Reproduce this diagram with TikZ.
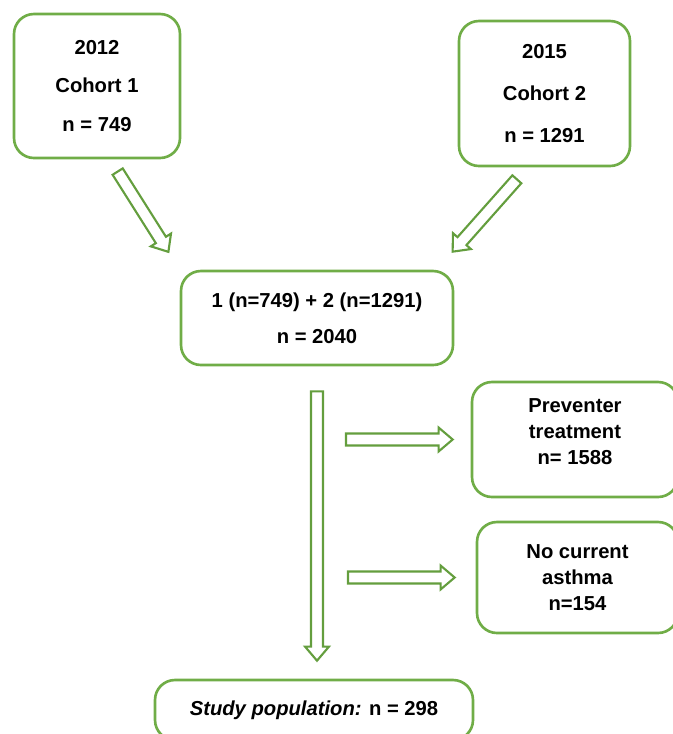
\documentclass[tikz,border=0pt]{standalone}
\usepackage{fontspec}
\setmainfont{Liberation Sans}
\usetikzlibrary{calc,positioning}

\definecolor{framegreen}{RGB}{112,173,71}
\definecolor{arrowgreen}{RGB}{100,158,62}

\tikzset{
	box/.style={draw=framegreen, line width=1.5pt, rounded corners=0.4cm, fill=white, align=center,
		font=\bfseries\fontsize{11.5}{15}\selectfont, inner sep=2pt},
	hollow/.style 2 args={draw=arrowgreen, line width=1.2pt, fill=white, line join=miter,
		to path={
			let \p1=($(\tikztostart)!#1!(\tikztotarget)$),
			    \p2=($(\tikztotarget)!#2!(\tikztostart)$),
			    \n1={atan2(\y2-\y1,\x2-\x1)},
			    \n2={veclen(\x2-\x1,\y2-\y1)} in
			{[shift={(\p1)}, rotate=\n1]
			(0,-3.4pt) -- ({\n2-8pt},-3.4pt) -- ({\n2-8pt},-6.8pt) -- (\n2,0)
			-- ({\n2-8pt},6.8pt) -- ({\n2-8pt},3.4pt) -- (0,3.4pt) -- cycle}
		}}
}

\begin{document}
\begin{tikzpicture}
		\useasboundingbox (0,0) rectangle (13.46,-14.68);

		\node[box, minimum width=3.32cm, minimum height=2.88cm] (c1) at (1.94,-1.72) {2012\\[7pt] Cohort 1\\[7pt] n = 749};
		\node[box, minimum width=3.42cm, minimum height=2.90cm] (c2) at (10.89,-1.87) {2015\\[9pt] Cohort 2\\[9pt] n = 1291};
		\node[box, minimum width=5.44cm, minimum height=1.88cm] (pool) at (6.34,-6.36) {1 (n=749) + 2 (n=1291)\\[5.5pt] n = 2040};
		\node[box, minimum width=4.12cm, minimum height=2.30cm] (prev) at (11.50,-8.79) {Preventer\\ treatment\\ n= 1588\\[-6pt]};
		\node[box, minimum width=4.02cm, minimum height=2.22cm] (nca) at (11.55,-11.55) {No current\\ asthma\\ n=154};
		\node[box, minimum width=6.36cm, minimum height=1.20cm] (study) at (6.28,-14.2) {{\itshape Study population:} n = 298};

		\coordinate (b1) at (pool.south |- prev.west);
		\coordinate (b2) at (pool.south |- nca.west);

		\draw[hollow={0.29cm}{0.42cm}] (c1.-80) to (pool.north west);
		\draw[hollow={0.32cm}{0.48cm}] (c2.-103) to (pool.22);
		\draw[hollow={0.5cm}{0.36cm}] (pool.south) to (pool.south |- study.north);
		\draw[hollow={0.58cm}{0.36cm}] (b1) to (prev.west);
		\draw[hollow={0.62cm}{0.42cm}] (b2) to (nca.west);
	\end{tikzpicture}
\end{document}
